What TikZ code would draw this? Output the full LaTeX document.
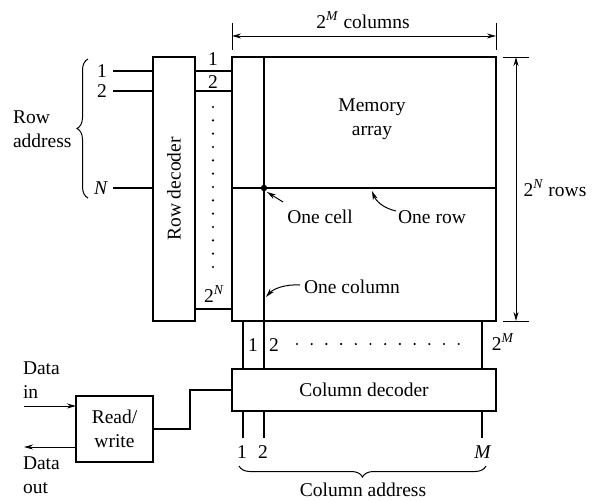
\documentclass[tikz,border=0pt]{standalone}
\usepackage{fontspec}
\setmainfont{Liberation Serif}
\newfontfamily\tmsfont{Liberation Serif}
\usetikzlibrary{arrows.meta,decorations.pathreplacing}
\begin{document}
\begin{tikzpicture}[x=1pt,y=-1pt,
  every node/.style={font=\tmsfont\fontsize{19.5}{24}\selectfont, inner sep=0pt, outer sep=0pt},
  ln/.style={line width=1.1pt},
  box/.style={draw, line width=1.1pt, anchor=north west},
  arr/.style={line width=1.0pt, -{Stealth[length=9pt,width=5pt]}},
  darr/.style={line width=1.0pt, {Stealth[length=9pt,width=5pt]}-{Stealth[length=9pt,width=5pt]}},
  brc/.style={line width=1pt, decorate, decoration={brace, amplitude=11pt}}
]
\useasboundingbox (0,0) rectangle (593,501);

% boxes
\node[box, minimum width=264pt, minimum height=264pt] (mem) at (232,57) {};
\node[box, minimum width=42pt, minimum height=264pt] (rdec) at (153,57) {};
\node[box, minimum width=264pt, minimum height=42pt] (cdec) at (232,369) {};
\node[box, minimum width=77pt, minimum height=66pt] (rw) at (76,396) {};

% box texts
\node[align=center] (memtxt) at (372,119) {Memory\\array};
\node[rotate=90] (rdtxt) at (174,189) {Row decoder};
\node (cdtxt) at (364,390) {Column decoder};
\node[align=center] (rwtxt) at (114.5,429) {Read/\\write};

% helper coordinates
\coordinate (r1) at (0,71);
\coordinate (r2) at (0,91);
\coordinate (rN) at (0,188);
\coordinate (rO) at (0,309);
\coordinate (k1) at (243,0);
\coordinate (k2) at (264,0);
\coordinate (kM) at (482,0);
\coordinate (i1) at (113,71);
\coordinate (i2) at (113,91);
\coordinate (iN) at (113,188);
\coordinate (b1) at (243,438);
\coordinate (b2) at (264,438);
\coordinate (bM) at (482,438);
\coordinate (cell) at (264,188);

% memory array inner lines
\draw[ln] (mem.north -| k2) -- (mem.south -| k2);
\draw[ln] (mem.west |- rN) -- (mem.east |- rN);
\fill (cell) circle (3.2pt);

% row decoder inputs
\draw[ln] (i1) -- (rdec.west |- i1);
\draw[ln] (i2) -- (rdec.west |- i2);
\draw[ln] (iN) -- (rdec.west |- iN);
\node (in1) at (102,71) {1};
\node (in2) at (102,91) {2};
\node (inN) at (101,188) {\textit{N}};

% row decoder outputs
\draw[ln] (rdec.east |- r1) -- (mem.west |- r1);
\draw[ln] (rdec.east |- r2) -- (mem.west |- r2);
\draw[ln] (rdec.east |- rO) -- (mem.west |- rO);
\node (o1) at (213,59) {1};
\node (o2) at (213,82) {2};
\node (oN) at (214,294) {2\textsuperscript{\textit{N}}};
\foreach \i in {0,...,12} \fill (213,107+\i*13.33) circle (1.2pt);

% column lines between array and decoder
\draw[ln] (mem.south -| k1) -- (cdec.north -| k1);
\draw[ln] (mem.south -| k2) -- (cdec.north -| k2);
\draw[ln] (mem.south -| kM) -- (cdec.north -| kM);
\node (c1) at (253,345) {1};
\node (c2) at (274,345) {2};
\node (cM) at (503,342) {2\textsuperscript{\textit{M}}};
\foreach \i in {0,...,11} \fill (297+\i*14.7,344) circle (1.2pt);

% column address lines
\draw[ln] (cdec.south -| b1) -- (b1);
\draw[ln] (cdec.south -| b2) -- (b2);
\draw[ln] (cdec.south -| bM) -- (bM);
\node (a1) at (242,452) {1};
\node (a2) at (263,452) {2};
\node (aM) at (483,452) {\textit{M}};
\draw[brc] (486,466) -- (239,466);
\node (caddr) at (363,490) {Column address};

% row address brace
\draw[brc] (88,198) -- (88,59);
\node[align=left, anchor=west] (raddr) at (13,129) {Row\\address};

% dimension arrows
\coordinate (tl1) at (232,23); \coordinate (tl2) at (232,50);
\coordinate (tr1) at (496,23); \coordinate (tr2) at (496,50);
\draw[line width=1pt] (tl1) -- (tl2);
\draw[line width=1pt] (tr1) -- (tr2);
\coordinate (ca) at (232,36); \coordinate (cb) at (496,36);
\draw[darr] (ca) -- (cb);
\node (ccols) at (363,20) {2\textsuperscript{\textit{M}} columns};

\coordinate (ts1) at (503,57); \coordinate (ts2) at (529,57);
\coordinate (tb1) at (503,321); \coordinate (tb2) at (529,321);
\draw[line width=1pt] (ts1) -- (ts2);
\draw[line width=1pt] (tb1) -- (tb2);
\coordinate (ra) at (516,57); \coordinate (rb) at (516,321);
\draw[darr] (ra) -- (rb);
\node (rrows) at (555,188) {2\textsuperscript{\textit{N}} rows};

% annotations
\node (onecell) at (320,217) {One cell};
\coordinate (cellarr) at (283,202);
\draw[arr] (cellarr) -- (267,192);
\node (onerow) at (432,217) {One row};
\coordinate (rowarr) at (396,211);
\draw[arr] (rowarr) .. controls (383,208) and (376,201) .. (372,191);
\node (onecol) at (352,287) {One column};
\coordinate (colarr) at (300,285);
\draw[arr] (colarr) .. controls (285,284) and (273,289) .. (266,297);

% read/write connections
\draw[ln] (cdec.west) -- ++(-42,0) |- (rw.east);
\coordinate (din) at (24,406);
\coordinate (dout) at (24,447);
\draw[arr] (din) -- (din -| rw.west);
\draw[arr] (dout -| rw.west) -- (dout);
\node[align=left, anchor=west] (dintxt) at (23,380) {Data\\in};
\node[align=left, anchor=west] (douttxt) at (23,475) {Data\\out};
\end{tikzpicture}
\end{document}
